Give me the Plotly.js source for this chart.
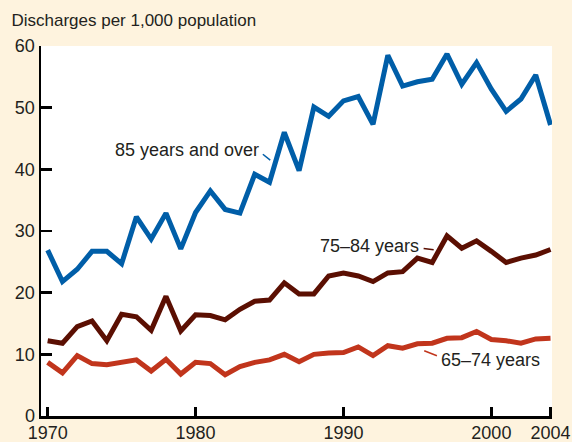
<!DOCTYPE html>
<html>
<head>
<meta charset="utf-8">
<script src="https://cdn.plot.ly/plotly-3.0.1.min.js"></script>
<style>
  html, body { margin: 0; padding: 0; background: #FEF3DE; }
  #chart { width: 572px; height: 442px; }
</style>
</head>
<body>
<div id="chart"></div>
<script>
const years = [1970,1971,1972,1973,1974,1975,1976,1977,1978,1979,
               1980,1981,1982,1983,1984,1985,1986,1987,1988,1989,
               1990,1991,1992,1993,1994,1995,1996,1997,1998,1999,
               2000,2001,2002,2003,2004];

const age85plus = [26.9,21.8,23.8,26.7,26.7,24.7,32.3,28.7,32.9,27.1,
                   33.0,36.5,33.5,32.9,39.2,37.9,46.0,39.8,50.1,48.6,
                   51.1,51.8,47.3,58.5,53.5,54.2,54.6,58.7,53.8,57.3,
                   53.0,49.4,51.4,55.3,47.2];

const age75to84 = [12.2,11.8,14.5,15.4,12.2,16.5,16.1,13.9,19.4,13.8,
                   16.4,16.3,15.6,17.3,18.6,18.8,21.6,19.8,19.8,22.7,
                   23.2,22.7,21.8,23.2,23.4,25.6,24.9,29.2,27.2,28.4,
                   26.7,24.9,25.6,26.1,27.0];

const age65to74 = [8.7,7.0,9.8,8.5,8.3,8.6,9.1,7.3,9.2,6.8,
                   8.7,8.5,6.7,8.0,8.7,9.1,10.0,8.8,10.0,10.2,
                   10.3,11.2,9.8,11.4,11.0,11.7,11.8,12.6,12.7,13.7,
                   12.4,12.2,11.8,12.5,12.6];

const seriesNames = ["85 years and over", "75\u201384 years", "65\u201374 years"];
const xTickVals = [1970, 1980, 1990, 2000, 2004];
const xTickText = ["1970", "1980", "1990", "2000", "2004"];
const yTickVals = [0, 10, 20, 30, 40, 50, 60];

const C_BLUE = "#005EA8";
const C_BROWN = "#5B0F02";
const C_RED = "#C1351C";
const FONT = "Liberation Sans, Arial, Helvetica, sans-serif";
const TXT = "#231F20";

const mk = (y, color, name) => ({
  x: years, y: y, type: "scatter", mode: "lines", name: name,
  line: { color: color, width: 5, shape: "linear" },
  hoverinfo: "skip"
});

const data = [
  mk(age65to74, C_RED, seriesNames[2]),
  mk(age75to84, C_BROWN, seriesNames[1]),
  mk(age85plus, C_BLUE, seriesNames[0])
];

const layout = {
  width: 572, height: 442,
  paper_bgcolor: "#FEF3DE",
  plot_bgcolor: "#FFFFFF",
  margin: { l: 41, r: 20, t: 46, b: 26, pad: 0 },
  showlegend: false,
  font: { family: FONT, size: 18, color: TXT },
  title: {
    text: "Discharges per 1,000 population",
    font: { family: FONT, size: 17, color: TXT },
    xref: "container", yref: "container",
    x: 0.02, xanchor: "left",
    y: 1 - 20.5 / 442, yanchor: "middle"
  },
  xaxis: {
    range: [1969.55, 2004.1],
    tickmode: "array", tickvals: xTickVals, ticktext: xTickText,
    ticks: "inside", ticklen: 9, tickwidth: 2.5, tickcolor: "#000",
    ticklabelstandoff: -1,
    showline: true, linecolor: "#000", linewidth: 2.5,
    showgrid: false, zeroline: false,
    tickfont: { family: FONT, size: 18, color: TXT }
  },
  yaxis: {
    range: [0, 60],
    tickmode: "array", tickvals: yTickVals,
    ticks: "inside", ticklen: 11, tickwidth: 2.5, tickcolor: "#000",
    showline: true, linecolor: "#000", linewidth: 2.5,
    showgrid: false, zeroline: false,
    tickfont: { family: FONT, size: 18, color: TXT }
  },
  annotations: [
    { x: 1984.4, y: 43.1, xref: "x", yref: "y", text: seriesNames[0],
      showarrow: false, xanchor: "right", yanchor: "middle",
      font: { family: FONT, size: 18, color: TXT } },
    { x: 1995.25, y: 27.6, xref: "x", yref: "y", text: seriesNames[1],
      showarrow: false, xanchor: "right", yanchor: "middle",
      font: { family: FONT, size: 18, color: TXT } },
    { x: 1996.45, y: 9.1, xref: "x", yref: "y", text: seriesNames[2],
      showarrow: false, xanchor: "left", yanchor: "middle",
      font: { family: FONT, size: 18, color: TXT } }
  ],
  shapes: [
    { type: "line", xref: "x", yref: "y", x0: 1984.55, y0: 42.45, x1: 1985.05, y1: 41.5,
      line: { color: C_BLUE, width: 1.5 } },
    { type: "line", xref: "x", yref: "y", x0: 1995.42, y0: 27.18, x1: 1996.1, y1: 26.95,
      line: { color: C_BROWN, width: 1.5 } },
    { type: "line", xref: "x", yref: "y", x0: 1995.46, y0: 10.58, x1: 1996.32, y1: 9.77,
      line: { color: C_RED, width: 1.5 } }
  ]
};

Plotly.newPlot("chart", data, layout, { displayModeBar: false, staticPlot: true });
</script>
</body>
</html>
